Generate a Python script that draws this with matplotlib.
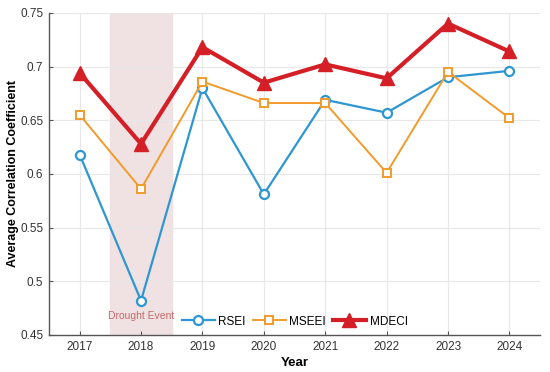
import matplotlib
matplotlib.use("Agg")
import matplotlib.pyplot as plt

plt.rcParams['font.family'] = ['Liberation Sans', 'DejaVu Sans']

years = [2017, 2018, 2019, 2020, 2021, 2022, 2023, 2024]
rsei = [0.618, 0.482, 0.680, 0.581, 0.669, 0.657, 0.690, 0.696]
mseei = [0.655, 0.586, 0.686, 0.666, 0.666, 0.601, 0.695, 0.652]
mdeci = [0.694, 0.628, 0.718, 0.685, 0.702, 0.689, 0.740, 0.714]
yticks = [0.45, 0.5, 0.55, 0.6, 0.65, 0.7, 0.75]
ytick_labels = ['0.45', '0.5', '0.55', '0.6', '0.65', '0.7', '0.75']

fig = plt.figure(figsize=(5.5, 3.72), dpi=100)
ax = fig.add_axes([0.089, 0.0995, 0.893, 0.866])

ax.axvspan(2017.5, 2018.5, color='#f0e1e2', zorder=0)
ax.text(2018, 0.468, 'Drought Event', color='#c46a6c', fontsize=7.5, ha='center', va='center')

ax.plot(years, rsei, color='#2e97d1', lw=1.6, marker='o', ms=6.5, mfc='white', mec='#2e97d1', mew=1.6, label='RSEI', zorder=3)
ax.plot(years, mseei, color='#f29b2b', lw=1.4, marker='s', ms=5.5, mfc='white', mec='#f29b2b', mew=1.4, label='MSEEI', zorder=3)
ax.plot(years, mdeci, color='#d41f26', lw=3, marker='^', ms=10, mfc='#d41f26', mec='#d41f26', label='MDECI', zorder=4)

ax.set_xlim(2016.5, 2024.5)
ax.set_ylim(0.45, 0.75)
ax.set_xticks(years)
ax.set_xticklabels([str(y) for y in years])
ax.set_yticks(yticks)
ax.set_yticklabels(ytick_labels)
ax.tick_params(labelsize=8.5, color='#555555', length=3, direction='in', labelcolor='#333333', pad=4)
ax.grid(True, color='#e8e8e8', lw=0.8)
ax.set_axisbelow(True)
for s in ['top', 'right']:
    ax.spines[s].set_visible(False)
for s in ['left', 'bottom']:
    ax.spines[s].set_color('#555555')
    ax.spines[s].set_linewidth(1.0)

ax.set_xlabel('Year', fontsize=9.5, fontweight='bold', labelpad=3)
ax.set_ylabel('Average Correlation Coefficient', fontsize=9, fontweight='bold', labelpad=1)

ax.legend(loc='lower center', ncol=3, frameon=False, fontsize=8.5, handlelength=2.8,
          columnspacing=0.6, handletextpad=0.3, bbox_to_anchor=(0.5, -0.01))

fig.savefig('out.png', dpi=100)
